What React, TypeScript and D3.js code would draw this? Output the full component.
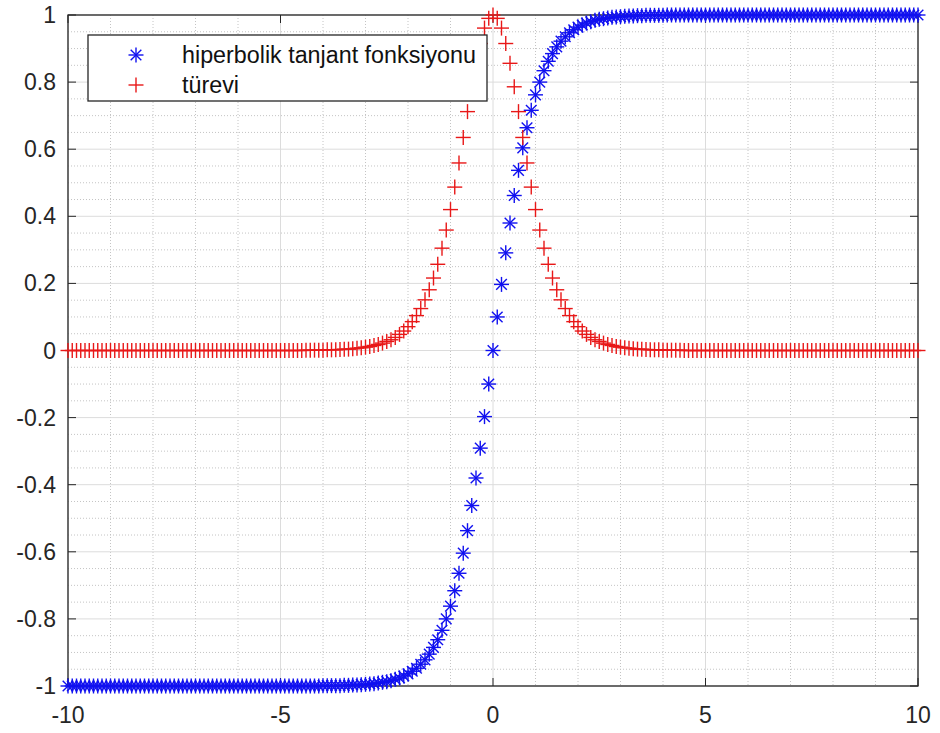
import React from "react";
import * as d3 from "d3";

// sample positions: -10 .. 10, step 0.1
const xValues: number[] = d3.range(0, 201).map((i) => Math.round((-10 + i * 0.1) * 10) / 10);

// hiperbolik tanjant fonksiyonu
const tanhValues: number[] = [
  -1, -1, -1, -1, -1, -1, -1, -1, -1, -1,
  -1, -1, -1, -1, -1, -1, -1, -1, -1, -1,
  -1, -1, -1, -1, -1, -1, -1, -1, -1, -1,
  -1, -1, -1, -1, -1, -1, -1, -1, -1, -1,
  -1, -1, -1, -1, -1, -1, -1, -1, -1, -1,
  -1, -1, -1, -1, -1, -1, -1, -1, -1, -1,
  -0.999, -0.999, -0.999, -0.999, -0.999, -0.998, -0.998, -0.997, -0.997, -0.996,
  -0.995, -0.994, -0.993, -0.991, -0.989, -0.987, -0.984, -0.98, -0.976, -0.97,
  -0.964, -0.956, -0.947, -0.935, -0.922, -0.905, -0.885, -0.862, -0.834, -0.8,
  -0.762, -0.716, -0.664, -0.604, -0.537, -0.462, -0.38, -0.291, -0.197, -0.1,
  0,
  0.1, 0.197, 0.291, 0.38, 0.462, 0.537, 0.604, 0.664, 0.716, 0.762,
  0.8, 0.834, 0.862, 0.885, 0.905, 0.922, 0.935, 0.947, 0.956, 0.964,
  0.97, 0.976, 0.98, 0.984, 0.987, 0.989, 0.991, 0.993, 0.994, 0.995,
  0.996, 0.997, 0.997, 0.998, 0.998, 0.999, 0.999, 0.999, 0.999, 0.999,
  1, 1, 1, 1, 1, 1, 1, 1, 1, 1,
  1, 1, 1, 1, 1, 1, 1, 1, 1, 1,
  1, 1, 1, 1, 1, 1, 1, 1, 1, 1,
  1, 1, 1, 1, 1, 1, 1, 1, 1, 1,
  1, 1, 1, 1, 1, 1, 1, 1, 1, 1,
  1, 1, 1, 1, 1, 1, 1, 1, 1, 1,
];

// türevi
const derivValues: number[] = [
  0, 0, 0, 0, 0, 0, 0, 0, 0, 0,
  0, 0, 0, 0, 0, 0, 0, 0, 0, 0,
  0, 0, 0, 0, 0, 0, 0, 0, 0, 0,
  0, 0, 0, 0, 0, 0, 0, 0, 0, 0,
  0, 0, 0, 0, 0, 0, 0, 0, 0, 0,
  0, 0, 0, 0, 0, 0, 0.001, 0.001, 0.001, 0.001,
  0.001, 0.002, 0.002, 0.002, 0.003, 0.004, 0.004, 0.005, 0.007, 0.008,
  0.01, 0.012, 0.015, 0.018, 0.022, 0.027, 0.032, 0.039, 0.048, 0.058,
  0.071, 0.086, 0.104, 0.125, 0.151, 0.181, 0.216, 0.257, 0.305, 0.359,
  0.42, 0.487, 0.559, 0.635, 0.712, 0.786, 0.856, 0.915, 0.961, 0.99,
  1,
  0.99, 0.961, 0.915, 0.856, 0.786, 0.712, 0.635, 0.559, 0.487, 0.42,
  0.359, 0.305, 0.257, 0.216, 0.181, 0.151, 0.125, 0.104, 0.086, 0.071,
  0.058, 0.048, 0.039, 0.032, 0.027, 0.022, 0.018, 0.015, 0.012, 0.01,
  0.008, 0.007, 0.005, 0.004, 0.004, 0.003, 0.002, 0.002, 0.002, 0.001,
  0.001, 0.001, 0.001, 0.001, 0, 0, 0, 0, 0, 0,
  0, 0, 0, 0, 0, 0, 0, 0, 0, 0,
  0, 0, 0, 0, 0, 0, 0, 0, 0, 0,
  0, 0, 0, 0, 0, 0, 0, 0, 0, 0,
  0, 0, 0, 0, 0, 0, 0, 0, 0, 0,
  0, 0, 0, 0, 0, 0, 0, 0, 0, 0,
];

const xTicks = [-10, -5, 0, 5, 10];
const yTicks = [-1, -0.8, -0.6, -0.4, -0.2, 0, 0.2, 0.4, 0.6, 0.8, 1];
const legendLabels = ["hiperbolik tanjant fonksiyonu", "türevi"];

const W = 940;
const H = 733;
const left = 68;
const right = 918;
const top = 15;
const bottom = 686;
const FONT = "'Liberation Sans', Arial, Helvetica, sans-serif";
const BLUE = "#1010f0";
const RED = "#e81818";
const MW = 1.4;

function Star({ x, y, r, color }: { x: number; y: number; r: number; color: string }) {
  const d = r * Math.SQRT1_2;
  return (
    <g stroke={color} strokeWidth={MW}>
      <line x1={x - r} y1={y} x2={x + r} y2={y} />
      <line x1={x} y1={y - r} x2={x} y2={y + r} />
      <line x1={x - d} y1={y - d} x2={x + d} y2={y + d} />
      <line x1={x - d} y1={y + d} x2={x + d} y2={y - d} />
    </g>
  );
}

function Plus({ x, y, r, color }: { x: number; y: number; r: number; color: string }) {
  return (
    <g stroke={color} strokeWidth={MW}>
      <line x1={x - r} y1={y} x2={x + r} y2={y} />
      <line x1={x} y1={y - r} x2={x} y2={y + r} />
    </g>
  );
}

export default function App() {
  const xs = d3.scaleLinear().domain([-10, 10]).range([left, right]);
  const ys = d3.scaleLinear().domain([-1, 1]).range([bottom, top]);

  const minorX = d3.range(-10, 10.001, 1).filter((v) => Math.abs(v % 5) > 1e-6);
  const minorY = d3.range(0, 41).map((i) => -1 + i * 0.05).filter((v) => Math.abs(Math.round(v * 100) % 20) > 1e-6);
  const tickLen = 8;

  return (
    <svg width={W} height={H} style={{ display: "block", position: "absolute", left: 0, top: 0, background: "#fff" }}>
      <rect x={0} y={0} width={W} height={H} fill="#fff" />
      {/* minor grid */}
      <g stroke="#c4c4c4" strokeWidth={1} strokeDasharray="1,2">
        {minorX.map((v) => (
          <line key={"mx" + v} x1={xs(v)} x2={xs(v)} y1={top} y2={bottom} />
        ))}
        {minorY.map((v, i) => (
          <line key={"my" + i} x1={left} x2={right} y1={ys(v)} y2={ys(v)} />
        ))}
      </g>
      {/* major grid */}
      <g stroke="#dcdcdc" strokeWidth={1}>
        {xTicks.map((v) => (
          <line key={"gx" + v} x1={xs(v)} x2={xs(v)} y1={top} y2={bottom} />
        ))}
        {yTicks.map((v) => (
          <line key={"gy" + v} x1={left} x2={right} y1={ys(v)} y2={ys(v)} />
        ))}
      </g>
      {/* ticks */}
      <g stroke="#262626" strokeWidth={1}>
        {xTicks.map((v) => (
          <g key={"tx" + v}>
            <line x1={xs(v)} x2={xs(v)} y1={bottom} y2={bottom - tickLen} />
            <line x1={xs(v)} x2={xs(v)} y1={top} y2={top + tickLen} />
          </g>
        ))}
        {yTicks.map((v) => (
          <g key={"ty" + v}>
            <line x1={left} x2={left + tickLen} y1={ys(v)} y2={ys(v)} />
            <line x1={right} x2={right - tickLen} y1={ys(v)} y2={ys(v)} />
          </g>
        ))}
      </g>
      {/* axes box */}
      <rect x={left} y={top} width={right - left} height={bottom - top} fill="none" stroke="#262626" strokeWidth={1.3} />
      {/* tick labels */}
      <g fontFamily={FONT} fontSize={23} fill="#262626">
        {xTicks.map((v) => (
          <text key={"lx" + v} x={xs(v)} y={bottom + 37} textAnchor="middle">
            {String(v)}
          </text>
        ))}
        {yTicks.map((v) => (
          <text key={"ly" + v} x={left - 12} y={ys(v)} textAnchor="end" dominantBaseline="central">
            {String(v)}
          </text>
        ))}
      </g>
      {/* series */}
      <g>
        {xValues.map((x, i) => (
          <Star key={"s" + i} x={xs(x)} y={ys(tanhValues[i])} r={7.5} color={BLUE} />
        ))}
      </g>
      <g>
        {xValues.map((x, i) => (
          <Plus key={"p" + i} x={xs(x)} y={ys(derivValues[i])} r={7.5} color={RED} />
        ))}
      </g>
      {/* legend */}
      <g>
        <rect x={88} y={35} width={399} height={66} fill="#fff" stroke="#262626" strokeWidth={1.3} />
        <Star x={136} y={55} r={7.5} color={BLUE} />
        <Plus x={136} y={85} r={7.5} color={RED} />
        <text x={182} y={55} fontFamily={FONT} fontSize={23.3} fill="#111" dominantBaseline="central">
          {legendLabels[0]}
        </text>
        <text x={182} y={85} fontFamily={FONT} fontSize={23.3} fill="#111" dominantBaseline="central">
          {legendLabels[1]}
        </text>
      </g>
    </svg>
  );
}
